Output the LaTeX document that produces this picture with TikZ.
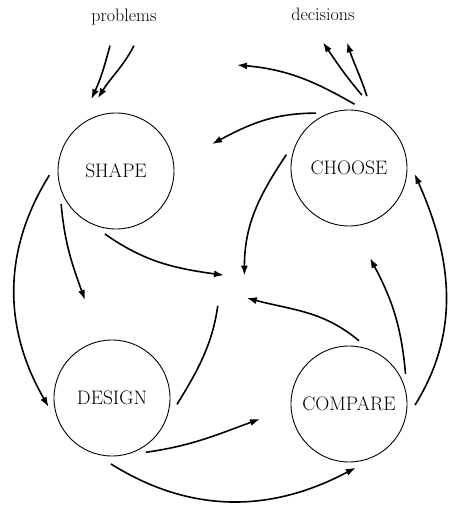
\documentclass[tikz,border=0pt]{standalone}
\usetikzlibrary{arrows.meta,positioning}
\tikzstyle{stage}=[draw,circle,minimum size=116pt,inner sep=0pt,outer sep=6pt,line width=0.9pt,font=\fontsize{19.5}{21}\selectfont]
\tikzstyle{io}=[inner sep=3pt,font=\fontsize{18}{20}\selectfont]
\tikzstyle{flow}=[-{Latex[length=10pt,width=7pt]},line width=1.6pt]

\begin{document}
\begin{tikzpicture}[x=1pt,y=1pt]
\useasboundingbox (0,0) rectangle (452,506);

% the four stages
\node [stage] (shape)   at (116,335) {SHAPE};
\node [stage] (choose)  at (349,338) {CHOOSE};
\node [stage] (design)  at (112,108) {DESIGN};
\node [stage] (compare) at (349,102) {COMPARE};

\node [io,anchor=base] (problems)  at (124,484) {problems};
\node [io,anchor=base] (decisions) at (323,485) {decisions};

% middle of the cycle, and loose arrow tips
\node [circle,minimum size=32pt,inner sep=0pt] (hub) at (234,218) {};
\coordinate (back1) at (237,441);
\coordinate (back2) at (212,362);
\coordinate (fwd1)  at (85,206);
\coordinate (fwd2)  at (260,87);
\coordinate (fwd3)  at (370,248);

% in and out
\draw [flow] ([xshift=-14pt,yshift=-17pt]problems.south) to[out=-105,in=65] ([shift={(109:12)}]shape.109);
\draw [flow] ([xshift=10pt,yshift=-17pt]problems.south) to[out=-118,in=58] ([shift={(104:11)}]shape.104);
\draw [flow] ([shift={(80:10)}]choose.80) to[out=130,in=-56] ([yshift=-18pt]decisions.south);
\draw [flow] ([shift={(76:10)}]choose.76) to[out=108,in=-72] ([xshift=24pt,yshift=-18pt]decisions.south);

% from CHOOSE
\draw [flow] (choose.85) to[out=150,in=-5] (back1);
\draw [flow] (choose.121) to[out=180,in=28] (back2);
\draw [flow] (choose.168) to[out=236,in=90] (hub.50);

% from SHAPE
\draw [flow,shorten <=5pt] (shape.180) to[out=238,in=120] (design.188);
\draw [flow] (shape.211) to[out=275,in=110] (fwd1);
\draw [flow] (shape.260) to[out=-35,in=172] (hub.128);

% from DESIGN
\draw [line width=1.6pt,shorten <=3pt,shorten >=11pt] (design.352) to[out=58,in=-98] (hub.205);
\draw [flow] (design.302) to[out=8,in=200] (fwd2);
\draw [flow,shorten <=4pt] (design.266) to[out=-32,in=208] (compare.276);

% from COMPARE
\draw [flow] (compare.81) to[out=140,in=-15] (hub.-38);
\draw [flow] (compare.28) to[out=95,in=-62] (fwd3);
\draw [flow,shorten <=4pt,shorten >=4pt] (compare.356) to[out=58,in=-66] (choose.358);
\end{tikzpicture}
\end{document}
